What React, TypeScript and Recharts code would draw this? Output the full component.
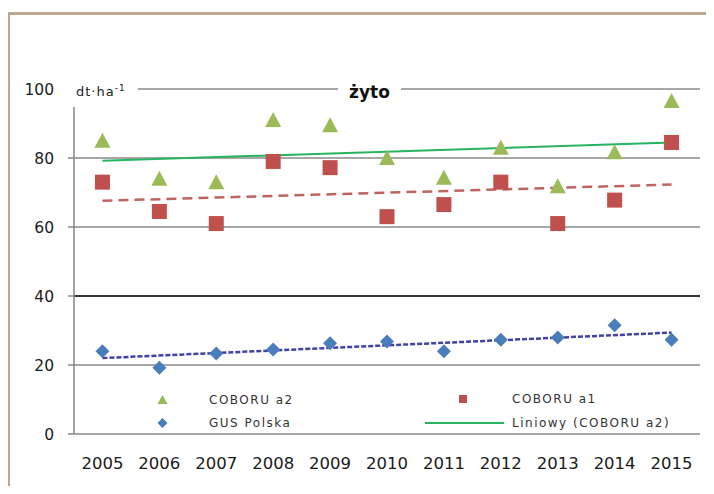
import { ComposedChart, Line, XAxis, YAxis, CartesianGrid, ReferenceLine } from "recharts";

const years = [2005, 2006, 2007, 2008, 2009, 2010, 2011, 2012, 2013, 2014, 2015];
const coboruA2 = [85, 74, 73, 91, 89.5, 80, 74.3, 83, 71.8, 81.7, 96.5];
const coboruA1 = [73, 64.5, 61, 79, 77.2, 63, 66.5, 73, 61, 67.8, 84.5];
const gusPolska = [24, 19.2, 23.3, 24.5, 26.3, 26.8, 24, 27.3, 28, 31.5, 27.3];
// trend lines at first and last year
const trendA2 = [79.2, 84.5];
const trendA1 = [67.6, 72.3];
const trendGus = [22, 29.4];
const yTicks = [0, 20, 40, 60, 80, 100];
const boundaryTicks = [...years.map((y) => y - 0.5), years[years.length - 1] + 0.5];

const last = years.length - 1;
const ends = (t: number[], i: number) => (i === 0 ? t[0] : i === last ? t[1] : null);

const data = years.map((year, i) => ({
  year,
  a2: coboruA2[i],
  a1: coboruA1[i],
  gus: gusPolska[i],
  tA2: ends(trendA2, i),
  tA1: ends(trendA1, i),
  tGus: ends(trendGus, i),
}));

const FONT = "'DejaVu Sans', sans-serif";
const GREEN = "#9bbb59";
const RED = "#c0504d";
const BLUE = "#4a7ebb";

const triangle = (p: any) => (
  <path
    key={`t-${p.index}`}
    d={`M${p.cx},${p.cy - 8}L${p.cx + 8},${p.cy + 7}L${p.cx - 8},${p.cy + 7}Z`}
    fill={GREEN}
  />
);
const square = (p: any) => (
  <rect key={`s-${p.index}`} x={p.cx - 7.5} y={p.cy - 7.5} width={15} height={15} fill={RED} />
);
const diamond = (p: any) => (
  <path
    key={`d-${p.index}`}
    d={`M${p.cx},${p.cy - 7}L${p.cx + 7},${p.cy}L${p.cx},${p.cy + 7}L${p.cx - 7},${p.cy}Z`}
    fill={BLUE}
  />
);

const legendText = {
  position: "absolute" as const,
  fontFamily: FONT,
  fontSize: 12,
  letterSpacing: 1.5,
  color: "#333",
  lineHeight: "14px",
  whiteSpace: "nowrap" as const,
};

export default function App() {
  return (
    <div
      style={{
        position: "relative",
        width: 714,
        height: 494,
        margin: -8,
        overflow: "hidden",
        background: "#fff",
      }}
    >
      <div
        style={{
          position: "absolute",
          left: 7,
          top: 12,
          width: 760,
          height: 540,
          border: "3px solid #bca88e",
        }}
      />
      <div style={{ position: "absolute", left: 0, top: 0 }}>
        <ComposedChart width={714} height={494} data={data} margin={{ top: 89, right: 14, bottom: 30, left: 0 }}>
          <CartesianGrid horizontal vertical={false} stroke="#8a8a8a" strokeWidth={1.5} />
          <XAxis
            xAxisId="ticks"
            type="number"
            dataKey="year"
            domain={[2004.5, 2015.5]}
            ticks={boundaryTicks}
            tick={false}
            tickSize={8}
            tickLine={{ stroke: "#868686", strokeWidth: 1.5 }}
            axisLine={{ stroke: "#868686", strokeWidth: 1.5 }}
            height={0}
          />
          <XAxis
            xAxisId="labels"
            type="number"
            dataKey="year"
            domain={[2004.5, 2015.5]}
            ticks={years}
            tickSize={0}
            tickLine={false}
            axisLine={false}
            tickMargin={23}
            height={30}
            tick={{ fontFamily: FONT, fontSize: 16.5, fill: "#1a1a1a" }}
          />
          <YAxis
            type="number"
            domain={[0, 100]}
            ticks={yTicks}
            width={74}
            tickSize={6}
            tickMargin={14}
            tickLine={{ stroke: "#868686", strokeWidth: 1.5 }}
            axisLine={{ stroke: "#868686", strokeWidth: 1.5 }}
            tick={{ fontFamily: FONT, fontSize: 15.5, fill: "#1a1a1a" }}
          />
          <ReferenceLine xAxisId="labels" y={40} stroke="#111" strokeWidth={1.5} />
          <Line xAxisId="labels" dataKey="a2" stroke="none" dot={triangle} activeDot={false} isAnimationActive={false} />
          <Line xAxisId="labels" dataKey="a1" stroke="none" dot={square} activeDot={false} isAnimationActive={false} />
          <Line xAxisId="labels" dataKey="gus" stroke="none" dot={diamond} activeDot={false} isAnimationActive={false} />
          <Line
            xAxisId="labels"
            dataKey="tA2"
            connectNulls
            stroke="#27b35f"
            strokeWidth={2}
            dot={false}
            activeDot={false}
            isAnimationActive={false}
          />
          <Line
            xAxisId="labels"
            dataKey="tA1"
            connectNulls
            stroke="#bf6461"
            strokeWidth={2.5}
            strokeDasharray="10 6"
            dot={false}
            activeDot={false}
            isAnimationActive={false}
          />
          <Line
            xAxisId="labels"
            dataKey="tGus"
            connectNulls
            stroke="#4141a8"
            strokeWidth={2.5}
            strokeDasharray="5 2"
            dot={false}
            activeDot={false}
            isAnimationActive={false}
          />
        </ComposedChart>
      </div>

      {/* unit label and title sit over the 100 gridline */}
      <div
        style={{
          position: "absolute",
          left: 62,
          top: 80,
          width: 76,
          height: 27,
          background: "#fff",
        }}
      >
        <span
          style={{
            position: "absolute",
            left: 14,
            top: 3,
            fontFamily: FONT,
            fontSize: 13,
            letterSpacing: 1,
            color: "#222",
            whiteSpace: "nowrap",
          }}
        >
          dt·ha<sup style={{ fontSize: 9 }}>-1</sup>
        </span>
      </div>
      <div
        style={{
          position: "absolute",
          left: 338,
          top: 80,
          width: 63,
          height: 24,
          background: "#fff",
          textAlign: "center",
          fontFamily: FONT,
          fontWeight: "bold",
          fontSize: 17,
          lineHeight: "24px",
          color: "#111",
        }}
      >
        żyto
      </div>

      {/* legend */}
      <svg style={{ position: "absolute", left: 0, top: 0 }} width={714} height={494} pointerEvents="none">
        <path d="M162.5,395L167.5,404L157.5,404Z" fill={GREEN} />
        <path d="M162.5,418L167.5,423L162.5,428L157.5,423Z" fill={BLUE} />
        <rect x={459} y={395} width={8} height={8} fill={RED} />
        <line x1={425} y1={423} x2={504} y2={423} stroke="#27b35f" strokeWidth={2} />
      </svg>
      <div style={{ ...legendText, left: 209, top: 393 }}>COBORU a2</div>
      <div style={{ ...legendText, left: 209, top: 416 }}>GUS Polska</div>
      <div style={{ ...legendText, left: 512, top: 392 }}>COBORU a1</div>
      <div style={{ ...legendText, left: 512, top: 416 }}>Liniowy (COBORU a2)</div>
    </div>
  );
}
